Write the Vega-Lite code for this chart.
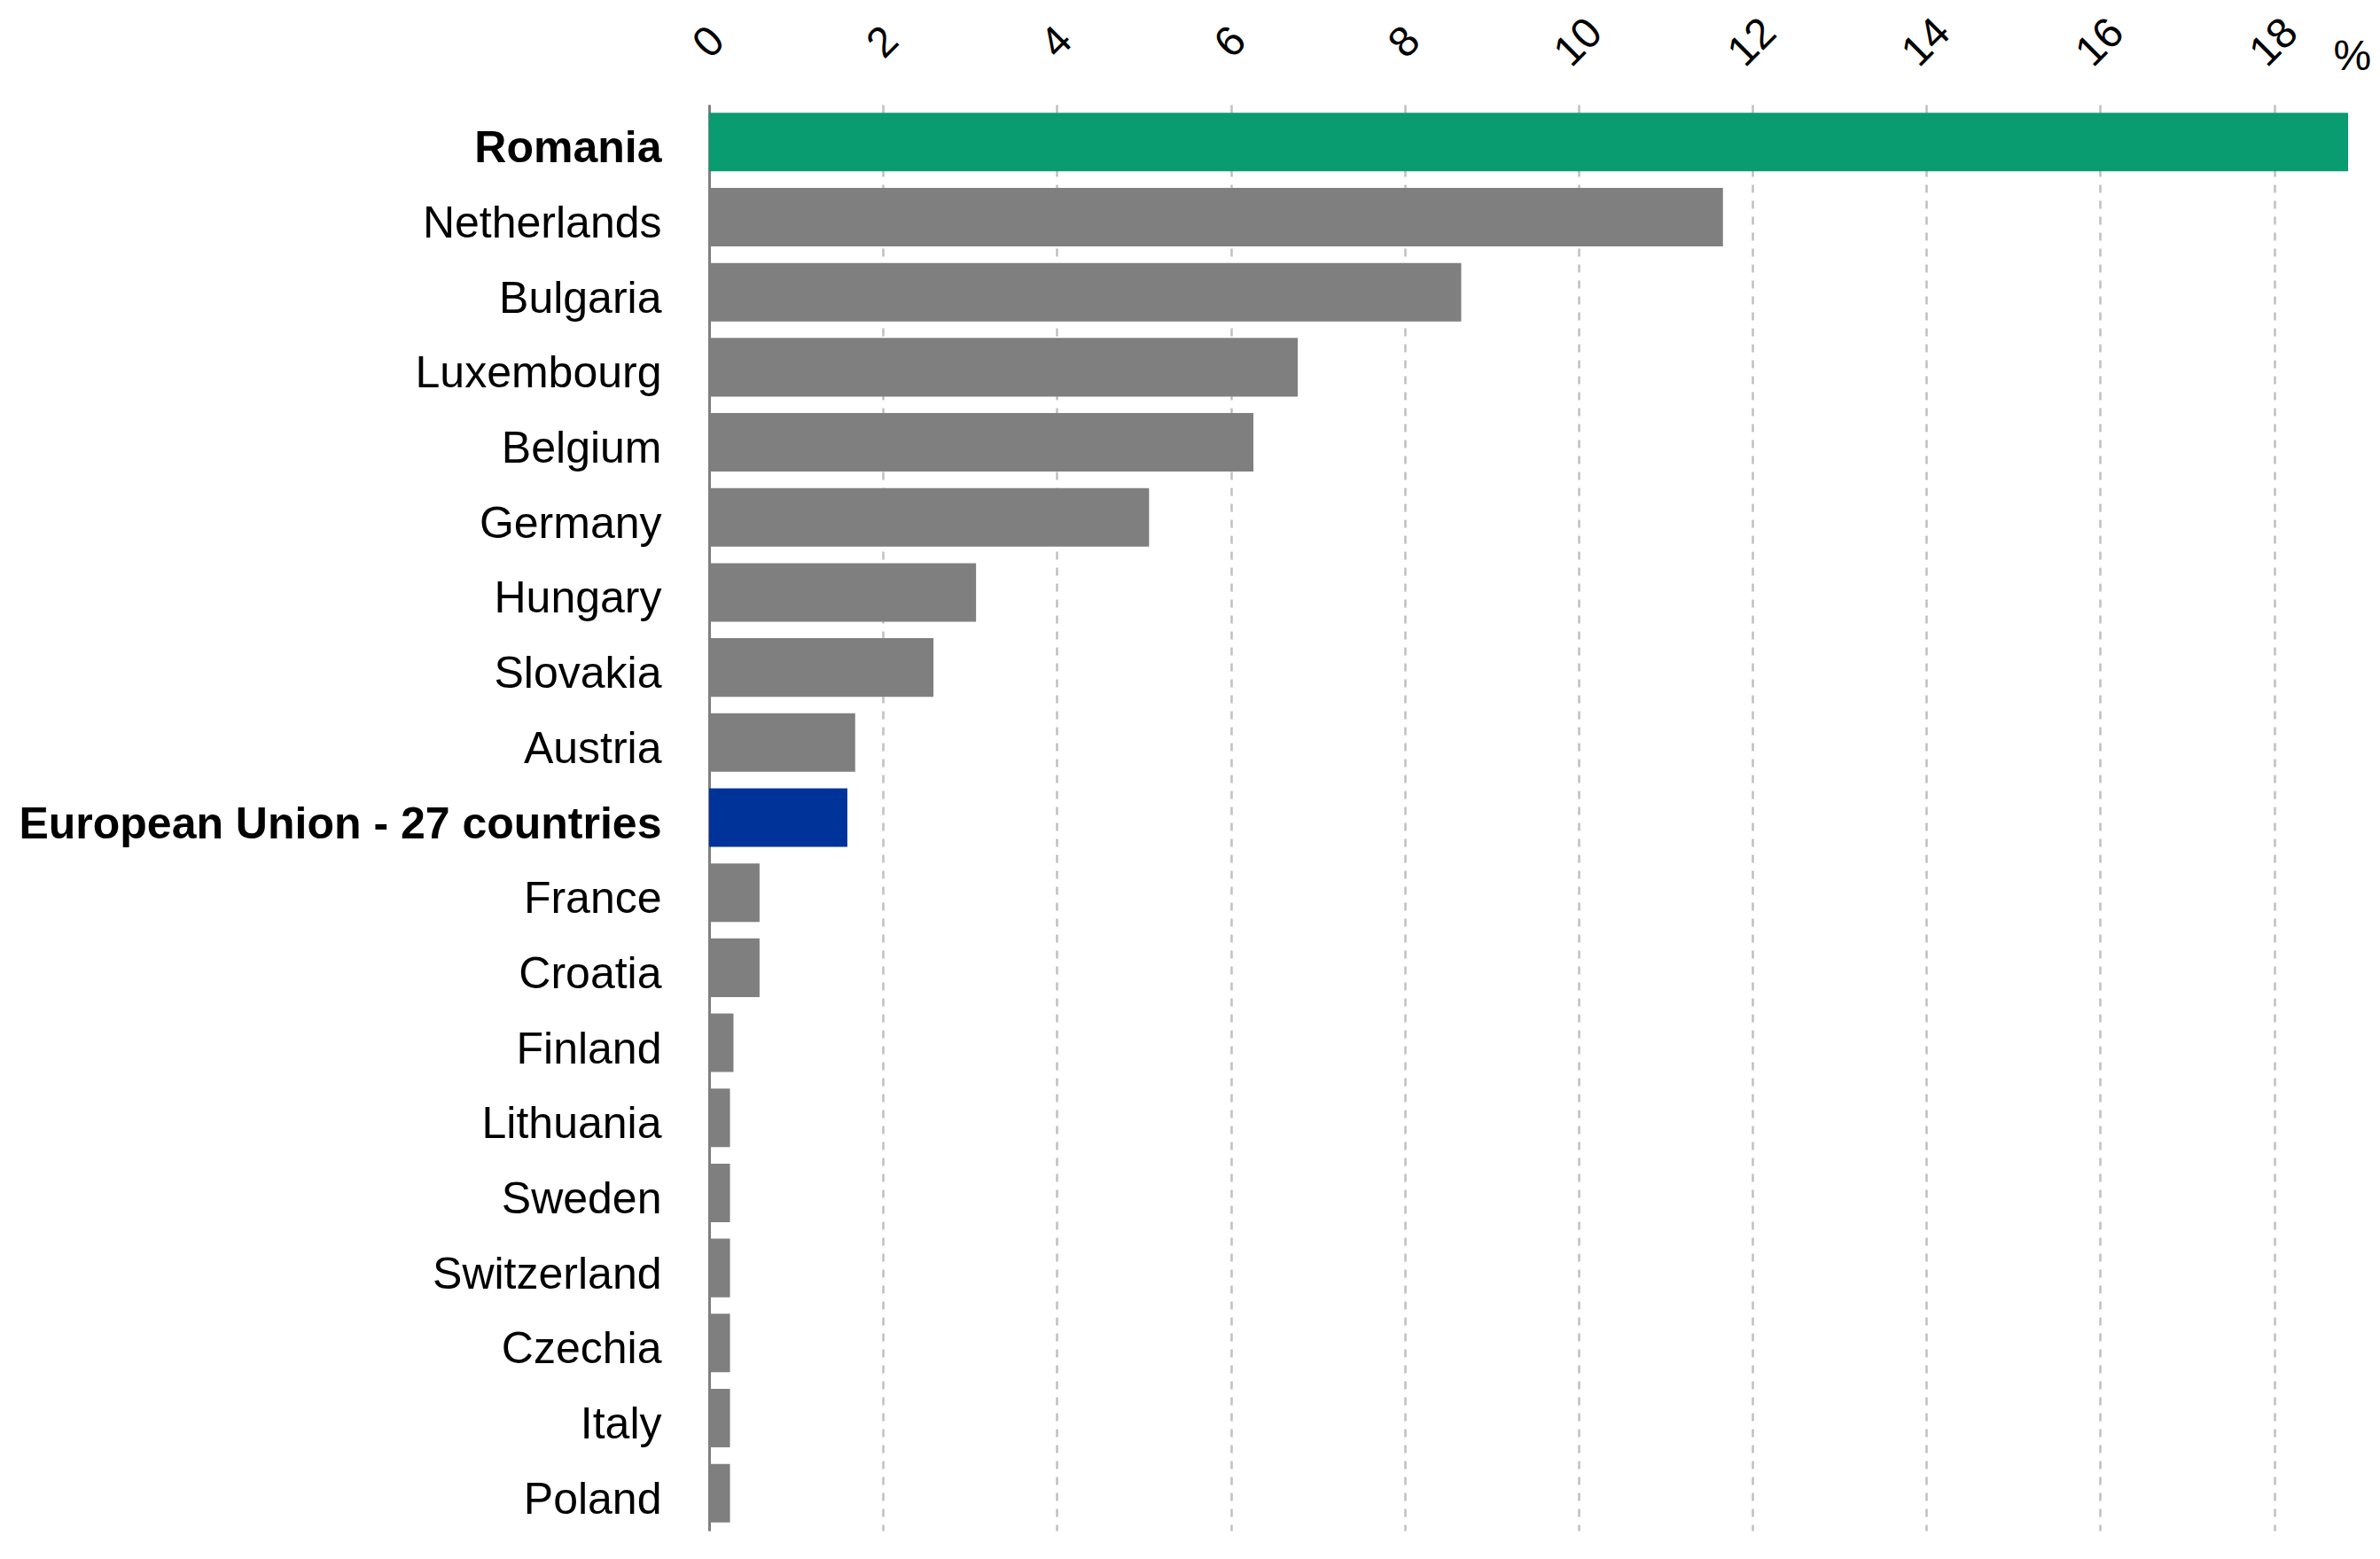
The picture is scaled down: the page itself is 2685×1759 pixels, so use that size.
{
  "$schema": "https://vega.github.io/schema/vega-lite/v6.json",
  "autosize": {"type": "none"},
  "padding": {"left": 800, "top": 118, "right": 36, "bottom": 32},
  "width": 1849,
  "height": 1609,
  "background": "white",
  "data": {
    "values": [
      {"country": "Romania", "share": 18.85, "group": "highlight"},
      {"country": "Netherlands", "share": 11.66, "group": "other"},
      {"country": "Bulgaria", "share": 8.65, "group": "other"},
      {"country": "Luxembourg", "share": 6.77, "group": "other"},
      {"country": "Belgium", "share": 6.26, "group": "other"},
      {"country": "Germany", "share": 5.06, "group": "other"},
      {"country": "Hungary", "share": 3.07, "group": "other"},
      {"country": "Slovakia", "share": 2.58, "group": "other"},
      {"country": "Austria", "share": 1.68, "group": "other"},
      {"country": "European Union - 27 countries", "share": 1.59, "group": "eu"},
      {"country": "France", "share": 0.58, "group": "other"},
      {"country": "Croatia", "share": 0.58, "group": "other"},
      {"country": "Finland", "share": 0.28, "group": "other"},
      {"country": "Lithuania", "share": 0.24, "group": "other"},
      {"country": "Sweden", "share": 0.24, "group": "other"},
      {"country": "Switzerland", "share": 0.24, "group": "other"},
      {"country": "Czechia", "share": 0.24, "group": "other"},
      {"country": "Italy", "share": 0.24, "group": "other"},
      {"country": "Poland", "share": 0.24, "group": "other"}
    ]
  },
  "mark": {"type": "bar"},
  "encoding": {
    "y": {
      "field": "country",
      "type": "nominal",
      "sort": null,
      "scale": {"paddingInner": 0.22, "paddingOuter": 0.11},
      "axis": {
        "title": null,
        "ticks": false,
        "grid": false,
        "domainColor": "#7f7f7f",
        "domainWidth": 3,
        "labelFont": "Liberation Sans",
        "labelFontSize": 50,
        "labelColor": "#000000",
        "labelPadding": 54,
        "labelOffset": 8,
        "labelLimit": 0,
        "labelFontWeight": {
          "condition": {"test": "datum.value == 'Romania' || datum.value == 'European Union - 27 countries'", "value": "bold"},
          "value": "normal"
        }
      }
    },
    "x": {
      "field": "share",
      "type": "quantitative",
      "scale": {"domain": [0, 18.85], "nice": false},
      "axis": {
        "orient": "top",
        "values": [0, 2, 4, 6, 8, 10, 12, 14, 16, 18],
        "domain": false,
        "ticks": false,
        "tickSize": 0,
        "labelAngle": -45,
        "labelAlign": "center",
        "labelBaseline": "middle",
        "labelPadding": 70,
        "labelFont": "Liberation Sans",
        "labelFontSize": 48,
        "labelColor": "#000000",
        "labelFlush": false,
        "labelOverlap": false,
        "gridColor": "#c0c0c0",
        "gridDash": [9, 9],
        "gridWidth": 2.5,
        "title": "%",
        "titleX": 1832,
        "titleY": -40,
        "titleAlign": "left",
        "titleBaseline": "alphabetic",
        "titleAngle": 0,
        "titleFont": "Liberation Sans",
        "titleFontSize": 48,
        "titleFontWeight": "normal",
        "titleColor": "#000000"
      }
    },
    "color": {
      "field": "group",
      "type": "nominal",
      "scale": {
        "domain": ["highlight", "other", "eu"],
        "range": ["#089c70", "#7f7f7f", "#003399"]
      },
      "legend": null
    }
  },
  "config": {"view": {"stroke": null}}
}
